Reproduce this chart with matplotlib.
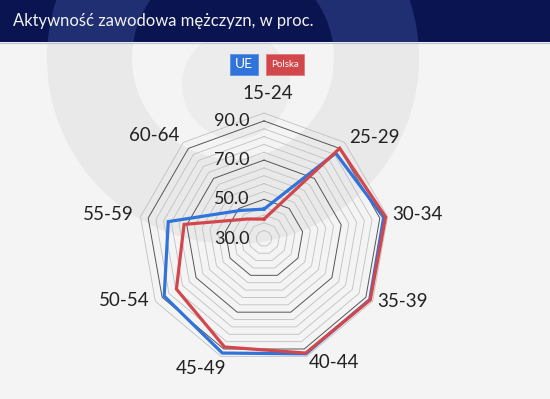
import numpy as np
import matplotlib
matplotlib.use("Agg")
import matplotlib.pyplot as plt
from matplotlib.patches import Rectangle, Wedge, Circle

# ---------------- data ----------------
categories = ['15-24', '25-29', '30-34', '35-39', '40-44', '45-49', '50-54', '55-59', '60-64']
ue = [45.0, 86.9, 92.0, 92.3, 92.6, 92.2, 88.8, 79.6, 48.7]
polska = [39.9, 90.1, 93.0, 92.6, 92.2, 88.9, 81.6, 71.4, 43.0]
tick_values = [34, 38, 42, 46, 50, 54, 58, 62, 66, 70, 74, 78, 82, 86, 90, 94]
major_ticks = [30, 50, 70, 90]
tick_labels = ['30.0', '50.0', '70.0', '90.0']
series_names = ['UE', 'Polska']
title = 'Aktywność zawodowa mężczyzn, w proc.'

# ---------------- style ----------------
W, H = 550, 399
BG = '#f4f4f4'
WM = '#e9e9e9'
NAVY = '#0a1450'
NAVY_WM = '#202f72'
BLUE = '#2f73db'
RED = '#d2474c'
plt.rcParams['font.family'] = ['Lato', 'DejaVu Sans']

fig = plt.figure(figsize=(W / 100, H / 100), dpi=100)
fig.patch.set_facecolor(BG)

# background / decoration axes in pixel coordinates
bg = fig.add_axes([0, 0, 1, 1], zorder=0)
bg.set_xlim(0, W)
bg.set_ylim(H, 0)
bg.axis('off')

wm_c = (233, 58)
bg.add_patch(Wedge(wm_c, 186, 0, 360, width=85, facecolor=WM, edgecolor='none'))
bg.add_patch(Circle((236, 85), 54, facecolor='#ececec', edgecolor='none'))

hdr = Rectangle((0, 0), W, 42, facecolor=NAVY, edgecolor='none')
bg.add_patch(hdr)
ring_h = Wedge(wm_c, 186, 0, 360, width=85, facecolor=NAVY_WM, edgecolor='none')
bg.add_patch(ring_h)
ring_h.set_clip_path(hdr)
bg.plot([0, W], [42.5, 42.5], color='#b8c0d8', lw=0.8)
bg.text(13, 26, title, color='#f2f2f2', fontsize=12, va='baseline', ha='left')

# legend buttons
bg.add_patch(Rectangle((229.5, 53.5), 28, 21.5, facecolor=BLUE, edgecolor='#5a92e6', lw=0.6))
bg.text(243.5, 64.5, series_names[0], color='white', fontsize=10, ha='center', va='center')
bg.add_patch(Rectangle((265.5, 53.5), 38, 21.5, facecolor=RED, edgecolor='#e07a7e', lw=0.6))
bg.text(284.5, 64.3, series_names[1], color='white', fontsize=7, ha='center', va='center')

# ---------------- radar ----------------
cx, cy = 264, 238.5
rmin, rmax = 30, 94
px_per_unit = 1.96
R = (rmax - rmin) * px_per_unit
ax = fig.add_axes([(cx - R) / W, (H - cy - R) / H, 2 * R / W, 2 * R / H],
                  projection='polar', zorder=1)
ax.patch.set_alpha(0)
ax.set_theta_zero_location('N')
ax.set_theta_direction(-1)
ax.set_ylim(rmin, rmax)
ax.set_xticks([])
ax.set_yticks([])
ax.grid(False)
ax.spines['polar'].set_visible(False)

n = len(categories)
theta = np.arange(n) * 2 * np.pi / n
theta_c = np.append(theta, theta[0])

for tv in tick_values:
    major = tv in major_ticks
    ax.plot(theta_c, [tv] * (n + 1), color='#555555' if major else '#c0c0c0',
            lw=0.7 if major else 0.6, zorder=1, clip_on=False)

ax.plot(theta_c, ue + ue[:1], color=BLUE, lw=2.3, zorder=3, clip_on=False,
        solid_joinstyle='miter')
ax.plot(theta_c, polska + polska[:1], color=RED, lw=2.3, zorder=4, clip_on=False,
        solid_joinstyle='miter')

for tv, tl in zip(major_ticks, tick_labels):
    ax.annotate(tl, xy=(0, tv), xytext=(-10.5, 0), textcoords='offset points',
                ha='right', va='center', fontsize=13, color='#222222', zorder=5)

# category labels
r_lab = rmin + 132 / px_per_unit
aligns = ['center', 'left', 'left', 'left', 'left', 'right', 'right', 'right', 'right']
offs = [(2.5, 9.5), (0, 0), (-1, 0.5), (-1, 2), (-0.5, 0), (5, -4), (0, 3), (0, 0.5), (0, 1)]
for t, lab, ha, (dx, dy) in zip(theta, categories, aligns, offs):
    ax.annotate(lab, xy=(t, r_lab), xytext=(dx, dy), textcoords='offset points',
                ha=ha, va='center', fontsize=13.5, color='#222222', annotation_clip=False)

fig.savefig('out.png', dpi=100, facecolor=BG)
